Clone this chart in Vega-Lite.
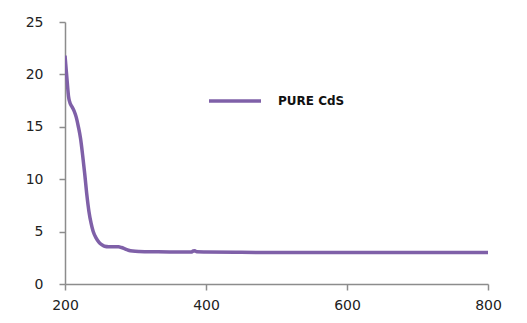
{
  "$schema": "https://vega.github.io/schema/vega-lite/v6.json",
  "width": 423,
  "height": 262,
  "autosize": "none",
  "padding": {"left": 65, "top": 22, "right": 39, "bottom": 39},
  "background": "white",
  "config": {
    "view": {"stroke": null},
    "font": "DejaVu Sans",
    "axis": {
      "grid": false,
      "domainColor": "#8c8c8c",
      "domainWidth": 1.5,
      "tickColor": "#8c8c8c",
      "tickWidth": 1.5,
      "tickSize": 6,
      "labelFont": "DejaVu Sans",
      "labelFontSize": 14,
      "labelColor": "#222222",
      "labelFlush": false,
      "title": null
    }
  },
  "data": {
    "values": [
      {"wavelength": 200, "absorbance": 21.8, "series": "PURE CdS"},
      {"wavelength": 201, "absorbance": 21.0, "series": "PURE CdS"},
      {"wavelength": 203, "absorbance": 19.4, "series": "PURE CdS"},
      {"wavelength": 205, "absorbance": 17.9, "series": "PURE CdS"},
      {"wavelength": 207, "absorbance": 17.3, "series": "PURE CdS"},
      {"wavelength": 210, "absorbance": 16.9, "series": "PURE CdS"},
      {"wavelength": 213, "absorbance": 16.5, "series": "PURE CdS"},
      {"wavelength": 216, "absorbance": 15.9, "series": "PURE CdS"},
      {"wavelength": 219, "absorbance": 15.0, "series": "PURE CdS"},
      {"wavelength": 222, "absorbance": 13.9, "series": "PURE CdS"},
      {"wavelength": 225, "absorbance": 12.3, "series": "PURE CdS"},
      {"wavelength": 228, "absorbance": 10.5, "series": "PURE CdS"},
      {"wavelength": 231, "absorbance": 8.5, "series": "PURE CdS"},
      {"wavelength": 234, "absorbance": 6.9, "series": "PURE CdS"},
      {"wavelength": 237, "absorbance": 5.8, "series": "PURE CdS"},
      {"wavelength": 240, "absorbance": 5.0, "series": "PURE CdS"},
      {"wavelength": 244, "absorbance": 4.4, "series": "PURE CdS"},
      {"wavelength": 248, "absorbance": 4.0, "series": "PURE CdS"},
      {"wavelength": 252, "absorbance": 3.75, "series": "PURE CdS"},
      {"wavelength": 256, "absorbance": 3.6, "series": "PURE CdS"},
      {"wavelength": 262, "absorbance": 3.55, "series": "PURE CdS"},
      {"wavelength": 270, "absorbance": 3.56, "series": "PURE CdS"},
      {"wavelength": 276, "absorbance": 3.55, "series": "PURE CdS"},
      {"wavelength": 280, "absorbance": 3.48, "series": "PURE CdS"},
      {"wavelength": 285, "absorbance": 3.35, "series": "PURE CdS"},
      {"wavelength": 290, "absorbance": 3.22, "series": "PURE CdS"},
      {"wavelength": 296, "absorbance": 3.14, "series": "PURE CdS"},
      {"wavelength": 305, "absorbance": 3.1, "series": "PURE CdS"},
      {"wavelength": 330, "absorbance": 3.07, "series": "PURE CdS"},
      {"wavelength": 360, "absorbance": 3.05, "series": "PURE CdS"},
      {"wavelength": 379, "absorbance": 3.05, "series": "PURE CdS"},
      {"wavelength": 382, "absorbance": 3.15, "series": "PURE CdS"},
      {"wavelength": 384, "absorbance": 3.18, "series": "PURE CdS"},
      {"wavelength": 387, "absorbance": 3.07, "series": "PURE CdS"},
      {"wavelength": 400, "absorbance": 3.05, "series": "PURE CdS"},
      {"wavelength": 450, "absorbance": 3.02, "series": "PURE CdS"},
      {"wavelength": 500, "absorbance": 3.01, "series": "PURE CdS"},
      {"wavelength": 560, "absorbance": 3.0, "series": "PURE CdS"},
      {"wavelength": 600, "absorbance": 3.0, "series": "PURE CdS"},
      {"wavelength": 700, "absorbance": 3.0, "series": "PURE CdS"},
      {"wavelength": 800, "absorbance": 3.0, "series": "PURE CdS"}
    ]
  },
  "mark": {"type": "line", "strokeWidth": 3.5, "interpolate": "monotone", "clip": true},
  "encoding": {
    "x": {
      "field": "wavelength",
      "type": "quantitative",
      "scale": {"domain": [200, 800], "nice": false, "zero": false},
      "axis": {"values": [200, 400, 600, 800], "labelPadding": 8}
    },
    "y": {
      "field": "absorbance",
      "type": "quantitative",
      "scale": {"domain": [0, 25], "nice": false},
      "axis": {"values": [0, 5, 10, 15, 20, 25], "labelPadding": 16}
    },
    "color": {
      "field": "series",
      "type": "nominal",
      "scale": {"range": ["#7f60a8"]},
      "legend": {
        "orient": "none",
        "legendX": 142,
        "legendY": 51,
        "title": null,
        "symbolType": "stroke",
        "symbolSize": 2704,
        "symbolStrokeWidth": 3.5,
        "labelFont": "DejaVu Sans",
        "labelFontSize": 12,
        "labelFontWeight": "bold",
        "labelColor": "#111111",
        "labelOffset": 15,
        "padding": 0
      }
    }
  }
}
